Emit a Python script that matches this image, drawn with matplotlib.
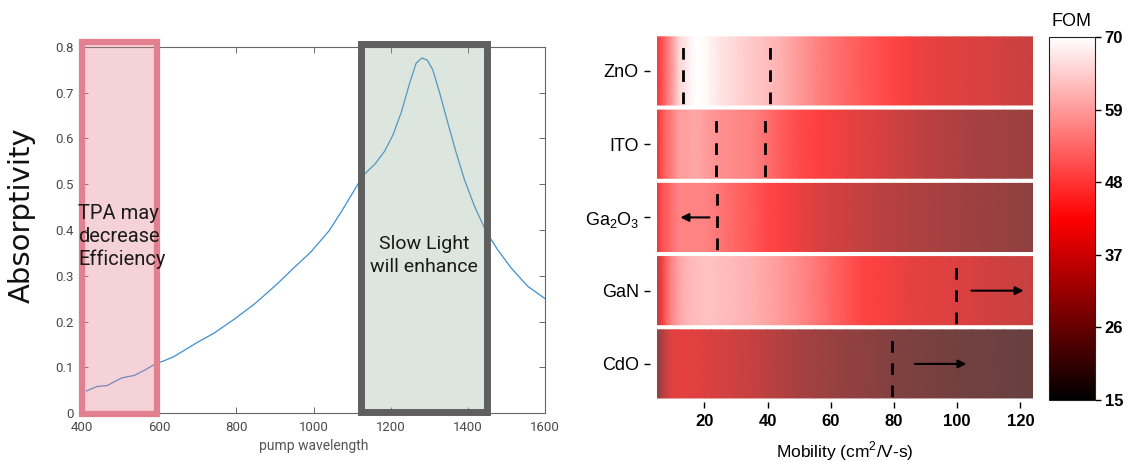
import numpy as np
import matplotlib
matplotlib.use("Agg")
import matplotlib.pyplot as plt
from matplotlib.colors import LinearSegmentedColormap, Normalize
from matplotlib.cm import ScalarMappable
from matplotlib.patches import Rectangle

plt.rcParams['mathtext.fontset'] = 'custom'
plt.rcParams['mathtext.rm'] = 'Liberation Sans'
plt.rcParams['mathtext.bf'] = 'Liberation Sans:bold'

# --- absorptivity spectrum ---
wavelength = [411, 439, 465, 483, 504, 535, 561, 591, 609, 635, 665, 696, 743,
              796, 848, 887, 908, 946, 993, 1040, 1072, 1117, 1133, 1159, 1184,
              1206, 1228, 1249, 1266, 1281, 1295, 1309, 1327, 1348, 1370, 1391,
              1417, 1447, 1477, 1512, 1555, 1600]
absorptivity = [0.048, 0.058, 0.060, 0.068, 0.077, 0.082, 0.093, 0.108, 0.113,
                0.122, 0.137, 0.153, 0.175, 0.206, 0.239, 0.268, 0.284, 0.315,
                0.352, 0.398, 0.440, 0.503, 0.523, 0.544, 0.572, 0.608, 0.659,
                0.721, 0.765, 0.776, 0.771, 0.750, 0.699, 0.634, 0.568, 0.510,
                0.452, 0.397, 0.357, 0.317, 0.277, 0.250]

# --- FOM vs mobility for each material ---
materials = ['ZnO', 'ITO', 'Ga$_\\mathregular{2}$O$_\\mathregular{3}$', 'GaN', 'CdO']
mobility = [5, 6, 7, 8, 9, 10, 11, 12, 14, 16, 18, 20, 22, 25, 30, 35, 40, 45,
            50, 55, 60, 65, 70, 75, 80, 85, 90, 95, 100, 105, 110, 115, 120, 124]
fom_zno = [40, 43, 46, 50, 53, 56, 60, 64, 66, 69, 70, 69.5, 68, 66, 64, 62,
           60.5, 58, 55, 52.5, 50, 48, 46, 44.5, 43, 41, 39.5, 38.5, 38, 37.5,
           37, 36, 35, 34.5]
fom_ito = [38, 43, 46, 49, 50, 52, 54, 56, 56, 57, 57, 56, 55, 54, 53, 52, 49,
           46, 44, 42.5, 41, 39.5, 38, 37, 35.5, 34.5, 33, 32, 31, 30, 29.5,
           29, 28.5, 28]
fom_ga2o3 = [37, 43, 46, 47, 48, 50, 51, 52, 52, 52, 52, 52, 51.5, 50, 48, 46,
             43.5, 42, 39.5, 37.5, 36, 35, 34, 33, 32, 31, 30.5, 30, 29, 28.5,
             28, 27.5, 27, 26.5]
fom_gan = [33, 37, 43, 48, 51, 53, 55, 57, 59, 60, 60.5, 61, 61, 60.5, 59.5,
           58.5, 57, 55, 53, 50.5, 48, 45.5, 43, 42, 40.5, 39, 38.5, 38, 37.5,
           37, 36, 35.5, 35, 34.5]
fom_cdo = [26, 29, 32, 35, 37, 38, 38.5, 38.5, 38.5, 38.5, 38, 37.5, 37, 36.5,
           35.5, 34.5, 33, 31.5, 30, 29, 28, 27, 26.5, 25.5, 24.5, 24, 23.5, 23,
           22.5, 22, 22, 21.5, 21, 21]
fom_rows = [fom_zno, fom_ito, fom_ga2o3, fom_gan, fom_cdo]

# dashed limits (row, mobility) and arrows (row, start, end)
limit_row = [0, 0, 1, 1, 2, 3, 4]
limit_mob = [13.3, 40.6, 23.8, 39.3, 24.0, 99.7, 79.5]
arrow_row = [2, 3, 4]
arrow_from = [21.6, 104.5, 86.6]
arrow_to = [12.4, 121.0, 102.9]

fom_ticks = [15, 26, 37, 48, 59, 70]

fig = plt.figure(figsize=(11.33, 4.61), dpi=100)

# ---------------- left panel ----------------
narrow = 'Roboto'
ax1 = fig.add_axes([0.0724, 0.1041, 0.4087, 0.794])
ax1.plot(wavelength, absorptivity, color='#3d8fd1', lw=0.9, zorder=1)
ax1.set_xlim(400, 1600)
ax1.set_ylim(0, 0.8)
ax1.set_xticks(range(400, 1601, 200))
ax1.set_yticks([0, 0.1, 0.2, 0.3, 0.4, 0.5, 0.6, 0.7, 0.8])
ax1.set_yticklabels(['0', '0.1', '0.2', '0.3', '0.4', '0.5', '0.6', '0.7', '0.8'])
ax1.tick_params(direction='in', top=True, right=True, length=4, width=0.6,
                colors='#555555', labelsize=9.5, labelcolor='#4a4a4a')
ax1.tick_params(axis='x', pad=6)
ax1.tick_params(axis='y', pad=6)
for lab in ax1.get_xticklabels() + ax1.get_yticklabels():
    lab.set_family(narrow)
for sp in ax1.spines.values():
    sp.set_color('#666666')
    sp.set_linewidth(0.8)
ax1.set_xlabel('pump wavelength', fontsize=10, color='#555555', labelpad=3,
               family=narrow)
ax1.set_ylabel('Absorptivity', fontsize=21, color='#111111')
ax1.yaxis.set_label_coords(-0.1, 0.54)

ax1.add_patch(Rectangle((400, -0.002), 195, 0.812, facecolor=(0.88, 0.5, 0.56, 0.35),
                        edgecolor='#e3808f', lw=4.5, clip_on=False, zorder=3))
ax1.add_patch(Rectangle((1123, 0.002), 327, 0.805, facecolor=(0.55, 0.68, 0.58, 0.3),
                        edgecolor='#5f5f5f', lw=5, clip_on=False, zorder=3))
ax1.text(390, 0.385, 'TPA may\ndecrease\nEfficiency', fontsize=14.5, family=narrow,
         color='#1a1a1a', ha='left', va='center', linespacing=1.25, zorder=4)
ax1.text(1286, 0.345, 'Slow Light\nwill enhance', fontsize=14, family=narrow,
         color='#1a1a1a', ha='center', va='center', linespacing=1.35, zorder=4)

# ---------------- right panel ----------------
cmap = LinearSegmentedColormap.from_list('fom', ['black', 'red', 'white'])
# heatmap shown as if laid at 75% opacity over white
shown = LinearSegmentedColormap.from_list(
    'fom_shown', [(0.25, 0.25, 0.25), (1.0, 0.25, 0.25), (1.0, 1.0, 1.0)])
norm = Normalize(vmin=15, vmax=70)

ax2 = fig.add_axes([0.5799, 0.128, 0.3319, 0.796])
half = 0.465
for i, vals in enumerate(fom_rows):
    X = np.vstack([mobility, mobility])
    Y = np.vstack([np.full(len(mobility), i - half), np.full(len(mobility), i + half)])
    C = np.vstack([vals, vals])
    ax2.pcolormesh(X, Y, C, shading='gouraud', cmap=shown, norm=norm,
                   antialiased=False, linewidth=0)

for r, m in zip(limit_row, limit_mob):
    ax2.plot([m, m], [r - half, r + half], color='black', lw=2,
             linestyle=(4.2, (4.2, 3.8)))
for r, a, b in zip(arrow_row, arrow_from, arrow_to):
    ax2.annotate('', xy=(b, r), xytext=(a, r),
                 arrowprops=dict(arrowstyle='-|>', color='black', lw=1.5,
                                 mutation_scale=12, shrinkA=0, shrinkB=0))

ax2.set_xlim(5, 124)
ax2.set_ylim(4.52, -0.49)
for sp in ax2.spines.values():
    sp.set_visible(False)
ax2.spines['left'].set_position(('outward', 5))
ax2.set_yticks(range(len(materials)))
ax2.set_yticklabels(materials, fontsize=13, family='Liberation Sans')
ax2.set_xticks([20, 40, 60, 80, 100, 120])
ax2.set_xticklabels(['20', '40', '60', '80', '100', '120'], fontsize=12,
                    family='Liberation Sans', fontweight='bold')
ax2.tick_params(axis='y', length=4, width=1, pad=4)
ax2.tick_params(axis='x', length=4, width=1, pad=5)
ax2.set_xlabel('Mobility (cm$^\\mathregular{2}$/V-s)', fontsize=12.5,
               family='Liberation Sans', labelpad=7)

# colorbar
cax = fig.add_axes([0.9258, 0.1323, 0.0406, 0.787])
cb = fig.colorbar(ScalarMappable(norm=norm, cmap=cmap), cax=cax, ticks=fom_ticks)
cb.outline.set_linewidth(0.8)
cb.outline.set_edgecolor('#222222')
cax.tick_params(length=4, width=1, pad=3)
cax.set_yticklabels([str(t) for t in fom_ticks], fontsize=12,
                    family='Liberation Sans', fontweight='bold')
cax.set_title('FOM', fontsize=13, family='Liberation Sans', pad=8)

fig.savefig('out.png', dpi=100)
